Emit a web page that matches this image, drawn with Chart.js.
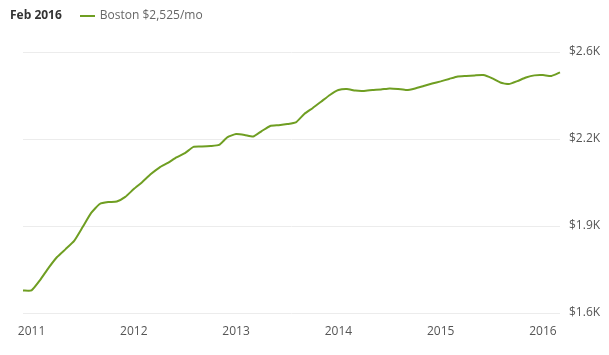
<!DOCTYPE html>
<html>
<head>
<meta charset="utf-8">
<script src="https://cdn.jsdelivr.net/npm/chart.js@4/dist/chart.umd.min.js"></script>
<style>
  body { margin: 0; background: #fff; font-family: "Open Sans", sans-serif; }
  #wrap { position: relative; width: 609px; height: 355px; }
  #rentChart { display: block; }
  #head { position: absolute; left: 10px; top: 6px; font-size: 12px; color: #666; white-space: nowrap; }
  #head b { color: #333; margin-right: 18px; }
  #head .sw { display: inline-block; width: 15px; height: 2px; background: #6f9e22; vertical-align: middle; margin-right: 5px; }
</style>
</head>
<body>
<div id="wrap">
  <canvas id="rentChart" width="609" height="355"></canvas>
  <div id="head"><b>Feb 2016</b><span class="sw"></span>Boston $2,525/mo</div>
</div>
<script>
// monthly points, Dec 2010 .. Mar 2016
var months = [
  "Dec 2010",
  "Jan 2011", "Feb 2011", "Mar 2011", "Apr 2011", "May 2011", "Jun 2011", "Jul 2011", "Aug 2011", "Sep 2011", "Oct 2011", "Nov 2011", "Dec 2011",
  "Jan 2012", "Feb 2012", "Mar 2012", "Apr 2012", "May 2012", "Jun 2012", "Jul 2012", "Aug 2012", "Sep 2012", "Oct 2012", "Nov 2012", "Dec 2012",
  "Jan 2013", "Feb 2013", "Mar 2013", "Apr 2013", "May 2013", "Jun 2013", "Jul 2013", "Aug 2013", "Sep 2013", "Oct 2013", "Nov 2013", "Dec 2013",
  "Jan 2014", "Feb 2014", "Mar 2014", "Apr 2014", "May 2014", "Jun 2014", "Jul 2014", "Aug 2014", "Sep 2014", "Oct 2014", "Nov 2014", "Dec 2014",
  "Jan 2015", "Feb 2015", "Mar 2015", "Apr 2015", "May 2015", "Jun 2015", "Jul 2015", "Aug 2015", "Sep 2015", "Oct 2015", "Nov 2015", "Dec 2015",
  "Jan 2016", "Feb 2016", "Mar 2016"
];

var bostonRent = [
  1723,
  1723, 1761, 1806, 1846, 1875, 1905, 1956, 2008, 2041, 2048, 2050, 2067,
  2096, 2122, 2151, 2175, 2192, 2212, 2228, 2251, 2252, 2254, 2258, 2287,
  2298, 2295, 2289, 2309, 2328, 2331, 2335, 2341, 2372, 2394, 2418, 2442,
  2460, 2464, 2458, 2457, 2460, 2462, 2466, 2464, 2460, 2466, 2475, 2484,
  2492, 2501, 2510, 2512, 2514, 2515, 2504, 2488, 2482, 2493, 2506, 2514,
  2515, 2512, 2525
];

var yMin = 1640, yMax = 2600, yStep = 320;

var green = '#6f9e22';

new Chart(document.getElementById("rentChart"), {
    type: 'line',
    data: {
        labels: months,
        datasets: [{
            label: 'Boston',
            data: bostonRent,
            borderColor: green,
            borderWidth: 2,
            pointRadius: 0,
            tension: 0.15,
            fill: false
        }]
    },
    options: {
        responsive: false,
        animation: false,
        layout: { padding: { left: 23, top: 52, right: 0, bottom: 0 } },
        plugins: { legend: { display: false }, tooltip: { enabled: false } },
        scales: {
            x: {
                grid: { display: false },
                border: { display: false },
                ticks: {
                    autoSkip: false,
                    maxRotation: 0,
                    padding: 3,
                    color: '#555',
                    font: { family: 'Open Sans', size: 12 },
                    callback: function (val) {
                        var m = months[val];
                        return m.indexOf('Jan') === 0 ? m.slice(4) : null;
                    }
                },
                afterFit: function (s) { s.height = 42; }
            },
            y: {
                position: 'right',
                min: yMin,
                max: yMax,
                grid: { color: '#ececec', drawTicks: false },
                border: { display: false },
                ticks: {
                    stepSize: yStep,
                    padding: 9,
                    color: '#555',
                    font: { family: 'Open Sans', size: 12 },
                    callback: function (v) {
                        return '$' + (Math.floor(v / 100) / 10).toFixed(1) + 'K';
                    }
                },
                afterFit: function (s) { s.width = 49; }
            }
        }
    }
});
</script>
</body>
</html>
